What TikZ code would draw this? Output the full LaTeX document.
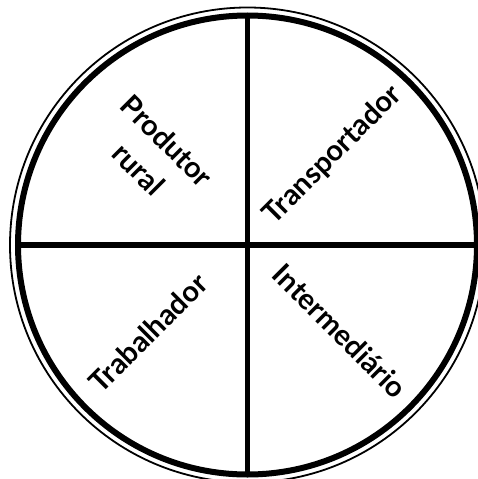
\documentclass[tikz,border=0pt]{standalone}
\usepackage{fontspec}
\setmainfont{Lato}
\usetikzlibrary{calc}

\begin{document}
\begin{tikzpicture}[x=1pt, y=-1pt,
        disc/.style={circle, draw, line width=6pt, inner sep=0pt, outer sep=0pt,
                     minimum size=459pt},
        rim/.style={circle, draw, line width=1.8pt, inner sep=0pt, outer sep=0pt,
                    minimum size=475pt},
        split/.style={line width=5.5pt},
        role/.style={font=\fontsize{29}{40}\selectfont\bfseries, align=center, inner sep=0pt}]

        \useasboundingbox (0,0) rectangle (478,479);

        % Circle with double rim
        \node[rim]  (outer) at (247.5,245) {};
        \node[disc] (inner) at (247.5,245) {};

        % Quarters
        \draw[split] (inner.north) -- (inner.south);
        \draw[split] (inner.west) -- (inner.east);

        % Labels
        \node[role, rotate=-45] (prod)  at (153,155) {Produtor\\rural};
        \node[role, rotate=45]  (trans) at (333,155) {Transportador};
        \node[role, rotate=45]  (trab)  at (148,333) {Trabalhador};
        \node[role, rotate=-45] (inter) at (340,331) {Intermediário};
      \end{tikzpicture}
\end{document}
